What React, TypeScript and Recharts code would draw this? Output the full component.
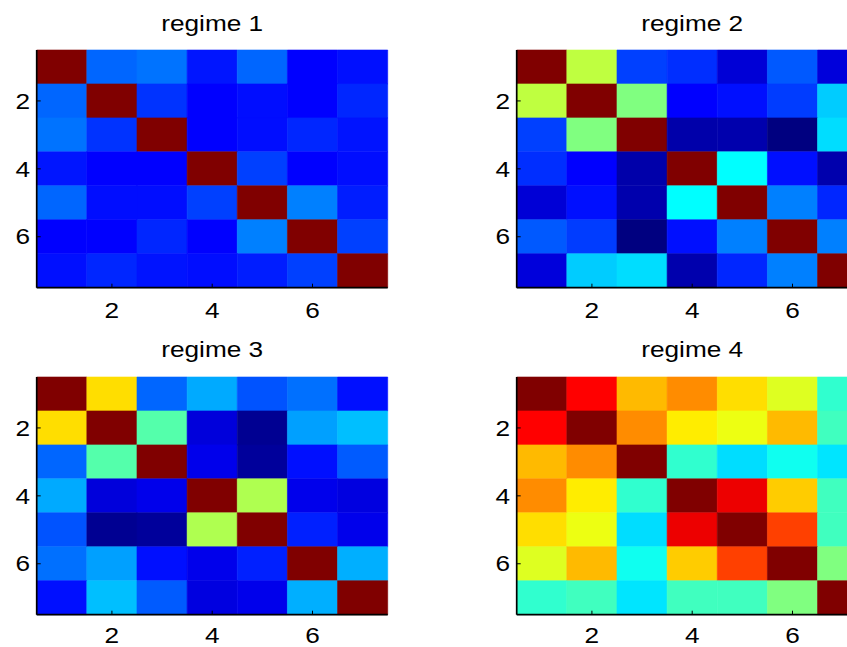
import React from 'react';
import { ScatterChart, XAxis, YAxis, ReferenceArea } from 'recharts';

// ---- data (colour scale fixed to [0, 1], jet colormap) ----
const ROWS = [1, 2, 3, 4, 5, 6, 7];
const COLS = [1, 2, 3, 4, 5, 6, 7];
const TICKS = [2, 4, 6];
const TITLES = ['regime 1', 'regime 2', 'regime 3', 'regime 4'];

const regime1 = [
  [1, 0.225, 0.238, 0.146, 0.225, 0.125, 0.14],
  [0.225, 1, 0.175, 0.125, 0.1375, 0.125, 0.162],
  [0.238, 0.175, 1, 0.125, 0.1375, 0.162, 0.144],
  [0.146, 0.125, 0.125, 1, 0.188, 0.125, 0.1375],
  [0.225, 0.1375, 0.1375, 0.188, 1, 0.25, 0.153],
  [0.125, 0.125, 0.162, 0.125, 0.25, 1, 0.188],
  [0.14, 0.162, 0.144, 0.1375, 0.153, 0.188, 1],
];

const regime2 = [
  [1, 0.5625, 0.188, 0.17, 0.085, 0.212, 0.09],
  [0.5625, 1, 0.5, 0.125, 0.14, 0.184, 0.325],
  [0.188, 0.5, 1, 0.042, 0.045, 0.0, 0.342],
  [0.17, 0.125, 0.042, 1, 0.375, 0.14, 0.045],
  [0.085, 0.14, 0.045, 0.375, 1, 0.25, 0.162],
  [0.212, 0.184, 0.0, 0.14, 0.25, 1, 0.25],
  [0.09, 0.325, 0.342, 0.045, 0.162, 0.25, 1],
];

const regime3 = [
  [1, 0.6575, 0.225, 0.292, 0.206, 0.235, 0.14],
  [0.6575, 1, 0.4575, 0.09, 0.018, 0.282, 0.3125],
  [0.225, 0.4575, 1, 0.105, 0.027, 0.14, 0.214],
  [0.292, 0.09, 0.105, 1, 0.547, 0.105, 0.095],
  [0.206, 0.018, 0.027, 0.547, 1, 0.156, 0.105],
  [0.235, 0.282, 0.14, 0.105, 0.156, 1, 0.297],
  [0.14, 0.3125, 0.214, 0.095, 0.105, 0.297, 1],
];

const regime4 = [
  [1, 0.875, 0.6925, 0.7375, 0.6575, 0.5925, 0.4225],
  [0.875, 1, 0.7375, 0.6425, 0.6075, 0.6925, 0.4375],
  [0.6925, 0.7375, 1, 0.4225, 0.342, 0.39, 0.35],
  [0.7375, 0.6425, 0.4225, 1, 0.8925, 0.675, 0.4375],
  [0.6575, 0.6075, 0.342, 0.8925, 1, 0.8125, 0.4375],
  [0.5925, 0.6925, 0.39, 0.675, 0.8125, 1, 0.5],
  [0.4225, 0.4375, 0.35, 0.4375, 0.4375, 0.5, 1],
];

const MATRICES = [regime1, regime2, regime3, regime4];

// ---- styling / layout ----
const FONT = '"Liberation Sans", Arial, Helvetica, sans-serif';
const FS = 21.5;
const CAP = FS * 0.716;
const SX = 1.22;

const CHART_W = 420;
const CHART_H = 330;
const PLOT_L = 36.7;
const PLOT_T = 50;
const PLOT_W = 351;
const PLOT_H = 237.7;
const X_AXIS_H = 30;
const PANEL_DX = 480;
const PANEL_DY = 326.7;
const DOMAIN: [number, number] = [0.5, 7.5];
const X_TICK_MARGIN = [18.6, 16.8];
const TITLE_GAP = 19.2;

const clamp = (v: number) => Math.max(0, Math.min(1, v));
function jet(t: number): string {
  const r = clamp(Math.min(4 * t - 1.5, -4 * t + 4.5));
  const g = clamp(Math.min(4 * t - 0.5, -4 * t + 3.5));
  const b = clamp(Math.min(4 * t + 0.5, -4 * t + 2.5));
  return `rgb(${Math.round(r * 255)},${Math.round(g * 255)},${Math.round(b * 255)})`;
}

const stretch = (x: number) => `translate(${x} 0) scale(${SX} 1) translate(${-x} 0)`;

const XTick = (props: any) => {
  const { x, y, payload } = props;
  return (
    <text x={x} y={y + CAP} textAnchor="middle" fontFamily={FONT} fontSize={FS} fill="#000" transform={stretch(x)}>
      {payload.value}
    </text>
  );
};

const YTick = (props: any) => {
  const { x, y, payload } = props;
  return (
    <text x={x} y={y + CAP / 2} textAnchor="end" fontFamily={FONT} fontSize={FS} fill="#000" transform={stretch(x)}>
      {payload.value}
    </text>
  );
};

const NoTick = () => <g />;

const axisLine = { stroke: '#000', strokeWidth: 1.7 };
const tickLine = { stroke: '#000', strokeWidth: 1 };

function Panel({ matrix, xTickMargin }: { matrix: number[][]; xTickMargin: number }) {
  return (
    <ScatterChart
      width={CHART_W}
      height={CHART_H}
      margin={{
        top: PLOT_T,
        left: 0,
        right: CHART_W - PLOT_L - PLOT_W,
        bottom: CHART_H - PLOT_T - PLOT_H - X_AXIS_H,
      }}
    >
      {ROWS.map((r) =>
        COLS.map((c) => {
          const col = jet(matrix[r - 1][c - 1]);
          return (
            <ReferenceArea
              key={`${r}-${c}`}
              x1={c - 0.5}
              x2={c + 0.5}
              y1={r - 0.5}
              y2={r + 0.5}
              fill={col}
              fillOpacity={1}
              stroke={col}
              strokeWidth={0.6}
              ifOverflow="visible"
            />
          );
        })
      )}
      <XAxis
        type="number"
        dataKey="x"
        domain={DOMAIN}
        allowDataOverflow
        ticks={TICKS}
        height={X_AXIS_H}
        tickSize={-4}
        tickMargin={xTickMargin}
        tick={XTick}
        axisLine={axisLine}
        tickLine={tickLine}
      />
      <XAxis
        xAxisId="top"
        orientation="top"
        type="number"
        dataKey="x"
        domain={DOMAIN}
        allowDataOverflow
        ticks={TICKS}
        height={0}
        tickSize={-4}
        tick={NoTick}
        axisLine={axisLine}
        tickLine={tickLine}
      />
      <YAxis
        type="number"
        dataKey="y"
        domain={DOMAIN}
        allowDataOverflow
        reversed
        ticks={TICKS}
        width={PLOT_L}
        tickSize={-4}
        tickMargin={10.5}
        tick={YTick}
        axisLine={axisLine}
        tickLine={tickLine}
      />
      <YAxis
        yAxisId="right"
        orientation="right"
        type="number"
        dataKey="y"
        domain={DOMAIN}
        allowDataOverflow
        reversed
        ticks={TICKS}
        width={0}
        tickSize={-4}
        tick={NoTick}
        axisLine={axisLine}
        tickLine={tickLine}
      />
    </ScatterChart>
  );
}

export default function App() {
  return (
    <div
      style={{
        position: 'absolute',
        left: 0,
        top: 0,
        width: 847,
        height: 647,
        overflow: 'hidden',
        background: '#fff',
      }}
    >
      {MATRICES.map((m, i) => {
        const col = i % 2;
        const row = Math.floor(i / 2);
        return (
          <div
            key={i}
            style={{ position: 'absolute', left: col * PANEL_DX, top: row * PANEL_DY, width: CHART_W, height: CHART_H }}
          >
            <Panel matrix={m} xTickMargin={X_TICK_MARGIN[row]} />
          </div>
        );
      })}
      <svg
        width={847}
        height={647}
        style={{ position: 'absolute', left: 0, top: 0, pointerEvents: 'none' }}
      >
        {TITLES.map((t, i) => {
          const col = i % 2;
          const row = Math.floor(i / 2);
          const cx = col * PANEL_DX + PLOT_L + PLOT_W / 2;
          const by = row * PANEL_DY + PLOT_T - TITLE_GAP;
          return (
            <text key={t} x={cx} y={by} textAnchor="middle" fontFamily={FONT} fontSize={FS} fill="#000" transform={stretch(cx)}>
              {t}
            </text>
          );
        })}
      </svg>
    </div>
  );
}
